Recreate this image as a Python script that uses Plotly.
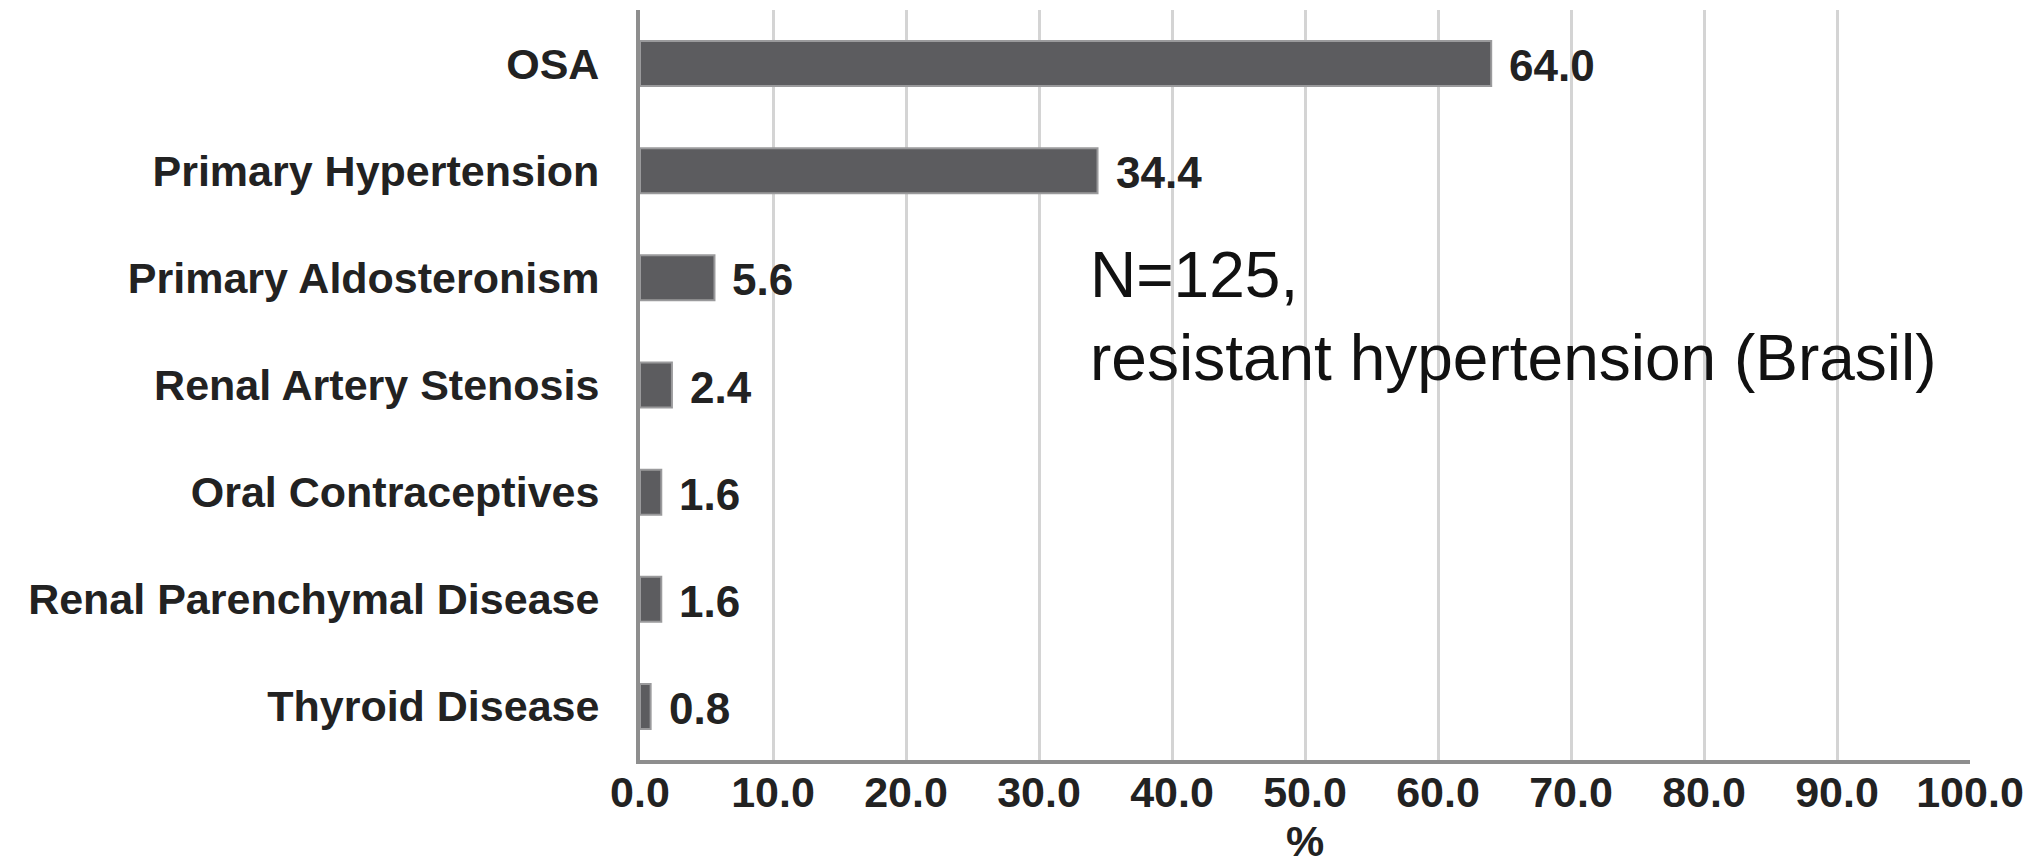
import plotly.graph_objects as go

categories = ["OSA", "Primary Hypertension", "Primary Aldosteronism", "Renal Artery Stenosis",
              "Oral Contraceptives", "Renal Parenchymal Disease", "Thyroid Disease"]
values = [64.0, 34.4, 5.6, 2.4, 1.6, 1.6, 0.8]
x_ticks = [0, 10, 20, 30, 40, 50, 60, 70, 80, 90, 100]
note_text = "N=125,<br>resistant hypertension (Brasil)"
x_title = "%"

FONT = "Liberation Sans, Arial, sans-serif"

fig = go.Figure()
fig.add_trace(go.Bar(
    y=categories, x=values, orientation="h",
    width=0.42,
    marker=dict(color="#5c5c5f", line=dict(color="#9a9a9c", width=2)),
    showlegend=False, hoverinfo="x+y",
))

for c, v in zip(categories, values):
    fig.add_annotation(x=v, y=c, xref="x", yref="y", text=f"{v:.1f}",
                       showarrow=False, xanchor="left", yanchor="middle", xshift=16, yshift=-2,
                       font=dict(family=FONT, size=44, color="#222222", weight="bold"))

fig.add_annotation(x=(1088 - 640) / 1330 * 100, y=0.592, xref="x", yref="paper",
                   text=note_text, showarrow=False, xanchor="left", yanchor="middle", align="left",
                   font=dict(family=FONT, size=64, color="#111111"))

fig.update_layout(
    width=2041, height=865,
    margin=dict(l=640, r=71, t=10, b=105),
    paper_bgcolor="white", plot_bgcolor="white",
)
fig.update_xaxes(
    range=[0, 100], tickvals=x_ticks, ticktext=[f"{t:.1f}" for t in x_ticks],
    showgrid=True, gridcolor="#d4d4d4", gridwidth=3,
    showline=True, linecolor="#8e8e8e", linewidth=4,
    zeroline=False, ticks="", ticklabelstandoff=-9, automargin=False,
    tickfont=dict(family=FONT, size=43, color="#222222", weight="bold"),
    title=dict(text=x_title, standoff=22, font=dict(family=FONT, size=43, color="#222222", weight="bold")),
)
fig.update_yaxes(
    categoryorder="array", categoryarray=categories,
    range=[6.5, -0.5], automargin=False,
    showgrid=False, showline=True, linecolor="#8e8e8e", linewidth=4,
    ticks="", ticklabelstandoff=28,
    tickfont=dict(family=FONT, size=43, color="#222222", weight="bold"),
)

fig.write_html("out.html")
